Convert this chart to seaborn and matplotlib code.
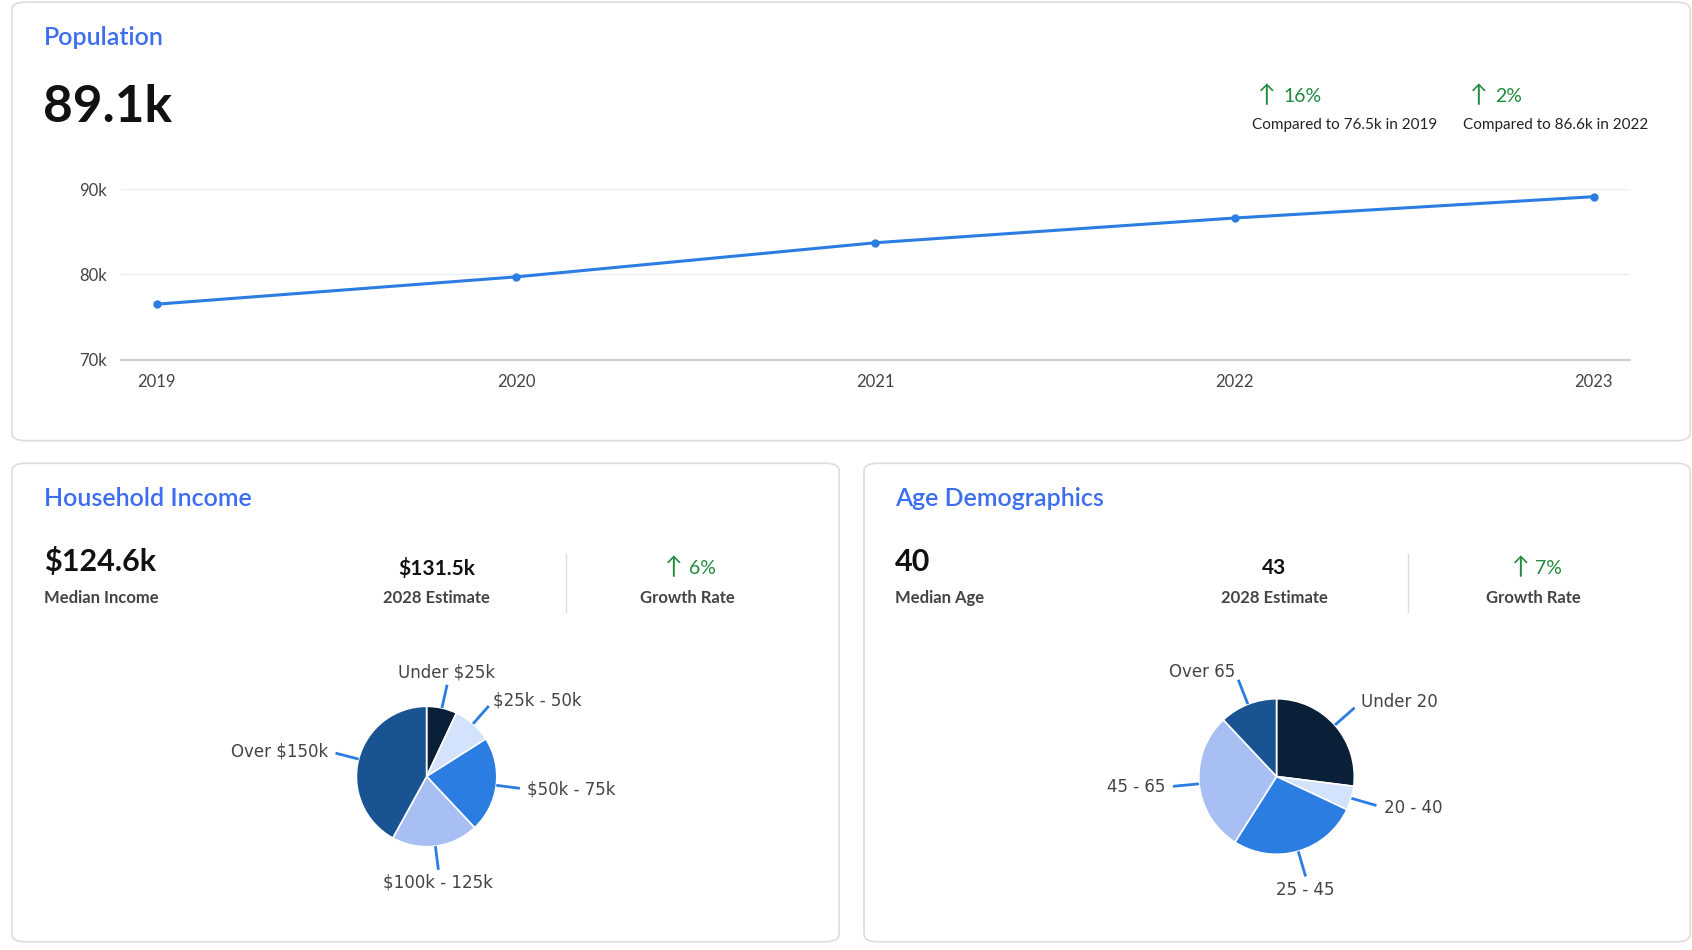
import numpy as np
import matplotlib
matplotlib.use("Agg")
import matplotlib.pyplot as plt
from matplotlib.patches import FancyBboxPatch
import seaborn as sns
import pandas as pd

years = [2019, 2020, 2021, 2022, 2023]
population = [76.5, 79.7, 83.7, 86.6, 89.1]

income_labels = ["Under $25k", "$25k - 50k", "$50k - 75k", "$100k - 125k", "Over $150k"]
income_share = [7, 9, 22, 20, 42]
income_colors = ["#0a2038", "#d3e2fd", "#2c7de2", "#a7bff3", "#1a5391"]

age_labels = ["Under 20", "20 - 40", "25 - 45", "45 - 65", "Over 65"]
age_share = [27, 5, 27, 29, 12]
age_colors = ["#0a2038", "#d3e2fd", "#2c7de2", "#a7bff3", "#1a5391"]

W, H = 1692, 950
S = 1.08
plt.rcParams["font.family"] = "Lato"
fig = plt.figure(figsize=(W / 100, H / 100), dpi=100)


def fx(x):
    return x * S / W


def fy(y):
    return 1 - y * S / H


def panel(x0, y0, x1, y1):
    fig.patches.append(FancyBboxPatch((fx(x0), fy(y1)), fx(x1) - fx(x0), fy(y0) - fy(y1),
                                      boxstyle="round,pad=0,rounding_size=0.008",
                                      transform=fig.transFigure, fc="white", ec="#dddddd", lw=1.2,
                                      zorder=-5))


def txt(x, y, s, **kw):
    fig.text(fx(x), fy(y), s, **kw)


def title(x, y, s):
    fig.text(fx(x), fy(y), s, fontsize=18, color="#3d6ef0", va="center", fontweight="semibold")


panel(11, 2, 1565, 408)
panel(11, 429, 777, 872)
panel(800, 429, 1565, 872)

green = "#1e8a3c"
dark = "#444444"
title(41, 35, "Population")
txt(40, 100, "89.1k", fontsize=37, fontweight="bold", color="#111111", va="center")
txt(1165, 89, "↑", fontsize=17, color=green, va="center")
txt(1188, 89, "16%", fontsize=14, color=green, va="center")
txt(1159, 116, "Compared to 76.5k in 2019", fontsize=11, color="#222222", va="center")
txt(1361, 89, "↑", fontsize=17, color=green, va="center")
txt(1384, 89, "2%", fontsize=14, color=green, va="center")
txt(1355, 116, "Compared to 86.6k in 2022", fontsize=11, color="#222222", va="center")

# line chart
ax = fig.add_axes([fx(112), fy(333), fx(1509) - fx(112), fy(175) - fy(333)])
ax.patch.set_alpha(0)
df = pd.DataFrame({"year": years, "pop": population})
sns.lineplot(data=df, x="year", y="pop", ax=ax, color="#2c7de2", lw=2.2, marker="o", markersize=6,
             markeredgewidth=0)
ax.set_ylim(70, 90)
ax.set_xlim(2018.9, 2023.1)
ax.set_yticks([70, 80, 90])
ax.set_yticklabels(["70k", "80k", "90k"])
ax.set_xticks(years)
ax.set_xticklabels([str(y) for y in years])
ax.grid(axis="y", color="#e6edf5", lw=1)
ax.set_axisbelow(True)
for s in ["top", "right", "left"]:
    ax.spines[s].set_visible(False)
ax.spines["bottom"].set_color("#cccccc")
ax.spines["bottom"].set_linewidth(1.5)
ax.tick_params(length=0, labelsize=12, labelcolor=dark, pad=10)
ax.set_xlabel("")
ax.set_ylabel("")


def stat_block(x0, name, big, est, growth, right_x):
    title(x0, 462, name)
    txt(x0, 520, big, fontsize=22, fontweight="bold", color="#111111", va="center")
    txt(x0, 554, "Median Income" if "$" in big else "Median Age", fontsize=12, fontweight="bold",
        color=dark, va="center")
    txt(right_x[0], 526, est, fontsize=15, fontweight="bold", color="#111111", va="center", ha="center")
    txt(right_x[0], 554, "2028 Estimate", fontsize=12, fontweight="bold", color=dark, va="center",
        ha="center")
    fig.add_artist(plt.Line2D([fx(right_x[1])] * 2, [fy(513), fy(567)], color="#dddddd", lw=1))
    txt(right_x[2] - 12, 526, "↑", fontsize=17, color=green, va="center", ha="center")
    txt(right_x[2] + 14, 526, growth, fontsize=14, color=green, va="center", ha="center")
    txt(right_x[2], 554, "Growth Rate", fontsize=12, fontweight="bold", color=dark, va="center",
        ha="center")


stat_block(41, "Household Income", "$124.6k", "$131.5k", "6%", (404, 524, 636))
stat_block(829, "Age Demographics", "40", "43", "7%", (1180, 1304, 1420))


def pie(cx, cy, r, vals, labels, colors):
    size = 4 * r
    pax = fig.add_axes([fx(cx - size / 2), fy(cy + size / 2), fx(size), fx(size) * W / H])
    wedges, _ = pax.pie(vals, colors=colors, startangle=90, counterclock=False, radius=0.25,
                        wedgeprops=dict(ec="white", lw=1.2))
    for w, lab in zip(wedges, labels):
        ang = np.deg2rad((w.theta1 + w.theta2) / 2)
        x1, y1 = 0.25 * np.cos(ang), 0.25 * np.sin(ang)
        x2, y2 = 0.33 * np.cos(ang), 0.33 * np.sin(ang)
        pax.plot([x1 * 1.02, x2], [y1 * 1.02, y2], color="#2c7de2", lw=2)
        ha = "left" if np.cos(ang) > 0.3 else ("right" if np.cos(ang) < -0.3 else "center")
        xt = 0.36 * np.cos(ang) if ha != "center" else x2
        yt = 0.36 * np.sin(ang) if ha != "center" else 0.38 * np.sin(ang)
        pax.text(xt, yt, lab, ha=ha, va="center", fontsize=12, color=dark, fontfamily="DejaVu Sans")
    pax.set_xlim(-0.5, 0.5)
    pax.set_ylim(-0.5, 0.5)
    pax.set_aspect("equal")
    pax.axis("off")


pie(395, 719, 65, income_share, income_labels, income_colors)
pie(1182, 719, 72, age_share, age_labels, age_colors)

fig.savefig("out.png", dpi=100)
